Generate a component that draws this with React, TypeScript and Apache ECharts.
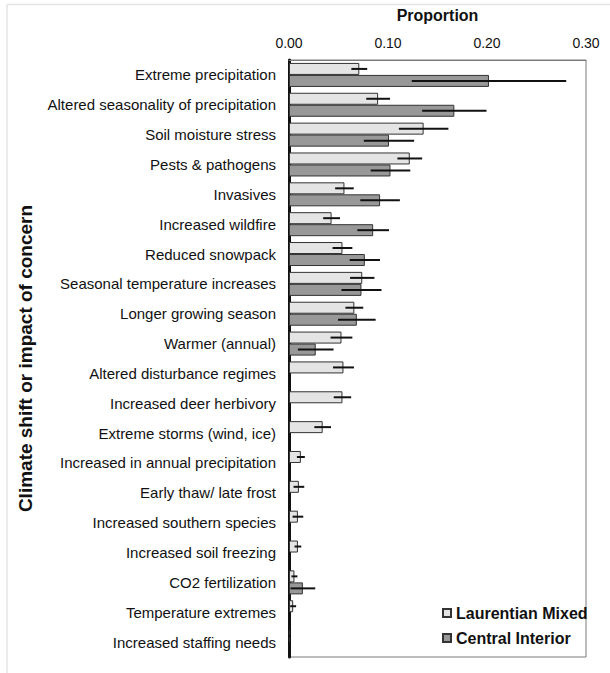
import React, { useEffect, useRef } from "react";
import * as echarts from "echarts";

const categories = [
  "Extreme precipitation",
  "Altered seasonality of precipitation",
  "Soil moisture stress",
  "Pests & pathogens",
  "Invasives",
  "Increased wildfire",
  "Reduced snowpack",
  "Seasonal temperature increases",
  "Longer growing season",
  "Warmer (annual)",
  "Altered disturbance regimes",
  "Increased deer herbivory",
  "Extreme storms (wind, ice)",
  "Increased in annual precipitation",
  "Early thaw/ late frost",
  "Increased southern species",
  "Increased soil freezing",
  "CO2 fertilization",
  "Temperature extremes",
  "Increased staffing needs",
];

const laurentianValues = [
  0.071, 0.09, 0.136, 0.122, 0.056, 0.043, 0.054, 0.074, 0.066, 0.053,
  0.055, 0.054, 0.034, 0.012, 0.01, 0.009, 0.009, 0.0055, 0.0042, 0.0008,
];
const laurentianErr = [
  0.008, 0.012, 0.025, 0.0125, 0.0094, 0.0085, 0.01, 0.0123, 0.009, 0.011,
  0.0106, 0.0088, 0.0084, 0.004, 0.0054, 0.0054, 0.0034, 0.003, 0.003, 0.0008,
];

const centralValues: (number | null)[] = [
  0.202, 0.167, 0.101, 0.1025, 0.092, 0.085, 0.0766, 0.0732, 0.0685, 0.027,
  null, null, null, null, null, null, null, 0.014, null, null,
];
const centralErr: (number | null)[] = [
  0.078, 0.0325, 0.0254, 0.02, 0.02, 0.016, 0.0153, 0.0202, 0.019, 0.018,
  null, null, null, null, null, null, null, 0.0125, null, null,
];

const xTicks = ["0.00", "0.10", "0.20", "0.30"];

const FONT = "Liberation Sans, Arial, sans-serif";
const BAR_W = 12;

function errData(vals: (number | null)[], errs: (number | null)[]) {
  const out: any[] = [];
  vals.forEach((v, i) => {
    const e = errs[i];
    if (v != null && e != null) out.push([i, v - e, v + e]);
  });
  return out;
}

function makeErrRender(offset: number) {
  return (params: any, api: any) => {
    const idx = api.value(0);
    const lo = api.coord([api.value(1), idx]);
    const hi = api.coord([api.value(2), idx]);
    return {
      type: "line",
      shape: { x1: lo[0], y1: lo[1] + offset, x2: hi[0], y2: hi[1] + offset },
      style: { stroke: "#111", lineWidth: 2 },
    };
  };
}

export default function App() {
  const ref = useRef<HTMLDivElement>(null);
  useEffect(() => {
    if (!ref.current) return;
    const chart = echarts.init(ref.current, undefined, { renderer: "svg" });
    chart.setOption({
      animation: false,
      backgroundColor: "#fff",
      textStyle: { fontFamily: FONT },
      graphic: [
        {
          type: "line",
          shape: { x1: 7, y1: 4.5, x2: 610, y2: 4.5 },
          style: { stroke: "#e4e4e4", lineWidth: 1.5 },
        },
        {
          type: "line",
          shape: { x1: 7, y1: 4.5, x2: 7, y2: 673 },
          style: { stroke: "#e4e4e4", lineWidth: 1.5 },
        },
      ],
      grid: {
        left: 289,
        right: 24,
        top: 60,
        bottom: 16,
        show: true,
        borderColor: "#7a7a7a",
        borderWidth: 1,
        backgroundColor: "transparent",
      },
      legend: {
        data: ["Laurentian Mixed", "Central Interior"],
        orient: "vertical",
        left: 442,
        top: 605,
        itemGap: 9,
        itemWidth: 8,
        itemHeight: 8,
        icon: "rect",
        padding: 0,
        textStyle: { fontFamily: FONT, fontSize: 16, fontWeight: "bold", color: "#111" },
      },
      xAxis: {
        type: "value",
        position: "top",
        min: 0,
        max: 0.3,
        interval: 0.1,
        name: "Proportion",
        nameLocation: "middle",
        nameGap: 37,
        nameTextStyle: { fontFamily: FONT, fontSize: 16, fontWeight: "bold", color: "#111" },
        axisLine: { show: true, lineStyle: { color: "#7a7a7a", width: 1 } },
        axisTick: { show: false },
        splitLine: { show: false },
        axisLabel: {
          fontFamily: FONT,
          fontSize: 14,
          color: "#111",
          margin: 10,
          formatter: (v: number) => xTicks[Math.round(v * 10)] ?? v.toFixed(2),
        },
      },
      yAxis: {
        type: "category",
        data: categories,
        inverse: true,
        name: "Climate shift or impact of concern",
        nameLocation: "middle",
        nameGap: 254,
        nameRotate: 90,
        nameTextStyle: { fontFamily: FONT, fontSize: 19, fontWeight: "bold", color: "#111" },
        axisLine: { show: true, lineStyle: { color: "#111", width: 3 } },
        axisTick: { show: false },
        splitLine: { show: false },
        axisLabel: { fontFamily: FONT, fontSize: 15, color: "#111", margin: 13 },
      },
      series: [
        {
          name: "Laurentian Mixed",
          type: "bar",
          barWidth: BAR_W,
          barGap: "0%",
          data: laurentianValues,
          itemStyle: { color: "#e4e4e4", borderColor: "#333", borderWidth: 1 },
          z: 2,
        },
        {
          name: "Central Interior",
          type: "bar",
          barWidth: BAR_W,
          barGap: "0%",
          data: centralValues,
          itemStyle: { color: "#989898", borderColor: "#333", borderWidth: 1 },
          z: 2,
        },
        {
          name: "LM err",
          type: "custom",
          renderItem: makeErrRender(-BAR_W / 2),
          encode: { x: [1, 2], y: 0 },
          data: errData(laurentianValues, laurentianErr),
          z: 5,
          silent: true,
        },
        {
          name: "CI err",
          type: "custom",
          renderItem: makeErrRender(BAR_W / 2),
          encode: { x: [1, 2], y: 0 },
          data: errData(centralValues, centralErr),
          z: 5,
          silent: true,
        },
      ],
    });
    return () => chart.dispose();
  }, []);
  return (
    <div
      ref={ref}
      style={{ position: "fixed", left: 0, top: 0, width: 610, height: 673 }}
    />
  );
}
